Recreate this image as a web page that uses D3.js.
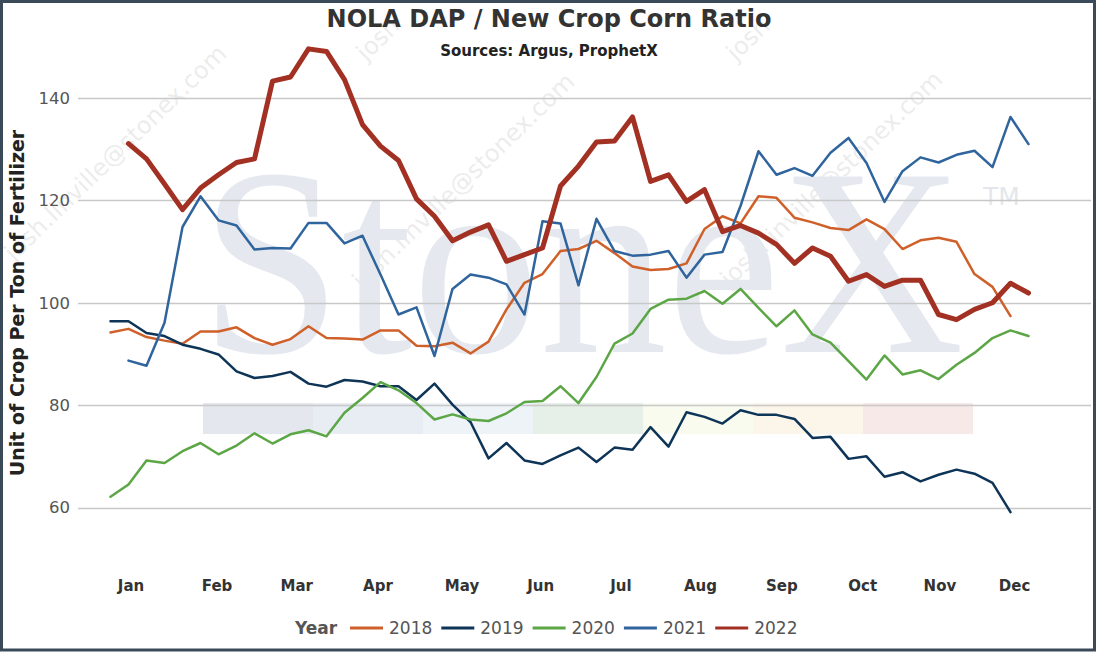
<!DOCTYPE html>
<html>
<head>
<meta charset="utf-8">
<script src="https://cdn.jsdelivr.net/npm/d3@7"></script>
<style>
  body { margin: 0; background: #fff; }
  svg { display: block; font-family: "DejaVu Sans", Verdana, sans-serif; }
</style>
</head>
<body>
<div id="chart"></div>
<script>
// tháng trên trục x và vị trí nhãn (theo chỉ số tuần)
const months = ["Jan", "Feb", "Mar", "Apr", "May", "Jun", "Jul", "Aug", "Sep", "Oct", "Nov", "Dec"];
const monthWeeks = [1.14, 5.92, 10.35, 14.86, 19.53, 23.9, 28.36, 32.78, 37.3, 41.79, 46.08, 50.23];
const yTicks = [60, 80, 100, 120, 140];
const years = ["2018", "2019", "2020", "2021", "2022"];

// dữ liệu theo tuần (chỉ số tuần bắt đầu)
const start2018 = 0;
const v2018 = [94.2, 94.9, 93.3, 92.6, 92.0, 94.4, 94.4, 95.2, 93.1, 91.8, 92.9,
  95.4, 93.1, 93.0, 92.8, 94.6, 94.6, 91.6, 91.5, 92.2, 90.1,
  92.4, 98.7, 103.9, 105.6, 110.1, 110.5, 112.1, 109.7, 107.1, 106.4,
  106.6, 107.7, 114.4, 116.9, 115.5, 120.8, 120.5, 116.6, 115.7, 114.6,
  114.2, 116.3, 114.4, 110.5, 112.2, 112.7, 111.9, 105.6, 103.1, 97.4];

const start2019 = 0;
const v2019 = [96.4, 96.4, 94.1, 93.5, 91.8, 91.0, 89.9, 86.6, 85.3, 85.7, 86.5,
  84.2, 83.6, 84.9, 84.6, 83.7, 83.7, 81.0, 84.2, 80.1, 76.7,
  69.6, 72.6, 69.2, 68.5, 70.2, 71.7, 68.9, 71.7, 71.3, 75.7,
  71.9, 78.6, 77.7, 76.4, 79.0, 78.1, 78.1, 77.3, 73.6, 73.8,
  69.5, 70.0, 66.0, 66.9, 65.1, 66.4, 67.4, 66.6, 64.8, 59.1];

const start2020 = 0;
const v2020 = [62.1, 64.5, 69.2, 68.7, 71.0, 72.6, 70.4, 72.1, 74.5, 72.5, 74.3,
  75.1, 73.9, 78.5, 81.4, 84.5, 82.9, 80.4, 77.2, 78.2, 77.2,
  76.9, 78.4, 80.6, 80.8, 83.7, 80.4, 85.5, 92.0, 94.0, 98.8,
  100.6, 100.8, 102.3, 99.8, 102.7, 99.0, 95.4, 98.5, 93.8, 92.2,
  88.6, 85.0, 89.7, 86.0, 86.8, 85.1, 87.9, 90.2, 93.1, 94.6, 93.5];

const start2021 = 1;
const v2021 = [88.7, 87.7, 96.1, 114.8, 120.8, 116.1, 115.1, 110.4, 110.7, 110.6,
  115.6, 115.6, 111.6, 113.1, 105.5, 97.7, 99.1, 89.6, 102.7, 105.5,
  104.9, 103.6, 97.7, 115.9, 115.5, 103.4, 116.4, 110.1, 109.2, 109.4,
  110.1, 104.9, 109.4, 109.9, 118.9, 129.6, 125.0, 126.3, 124.8, 129.3,
  132.2, 127.3, 119.7, 125.7, 128.4, 127.4, 128.9, 129.7, 126.5, 136.3, 131.0];

const start2022 = 1;
const v2022 = [131.1, 128.1, 123.2, 118.2, 122.4, 125.0, 127.4, 128.1, 143.3, 144.1,
  149.6, 149.1, 143.6, 134.8, 130.6, 127.8, 120.3, 116.9, 112.1, 113.8,
  115.2, 108.1, 109.4, 110.7, 122.8, 126.7, 131.4, 131.6, 136.3, 123.7,
  125.0, 119.8, 122.1, 113.9, 115.1, 113.6, 111.4, 107.7, 110.7, 109.1,
  104.2, 105.5, 103.2, 104.4, 104.4, 97.7, 96.7, 98.7, 100.0, 103.8, 101.9];

(() => {
    const width = 1098, height = 652;

    const colors = ["#d0602a", "#0e3557", "#5ca646", "#30649d", "#a33123"];
    const widths = [2.5, 2.5, 2.5, 2.5, 5];
    const bandColors = ["#e4e8ee", "#e8edf4", "#eef3f8", "#e6efe8", "#fafbef", "#fcf5ea", "#f8e9e9"];

    const series = [
        { year: years[0], start: start2018, values: v2018 },
        { year: years[1], start: start2019, values: v2019 },
        { year: years[2], start: start2020, values: v2020 },
        { year: years[3], start: start2021, values: v2021 },
        { year: years[4], start: start2022, values: v2022 }
    ];

    const x = d3.scaleLinear().domain([0, 51]).range([110.5, 1028.5]);
    const y = d3.scaleLinear().domain([60, 140]).range([507.5, 98]);

    const svg = d3.select("#chart")
        .append("svg")
        .attr("width", width)
        .attr("height", height);

    svg.append("rect")
        .attr("width", width)
        .attr("height", height)
        .attr("fill", "#fff");

    // watermark email
    const wm = svg.append("g");
    [[14, 262, "josh.linville@stonex.com"], [362, 290, "josh.linville@stonex.com"],
     [730, 288, "josh.linville@stonex.com"], [366, 62, "josh"], [736, 62, "josh"]].forEach(p => {
        wm.append("text")
            .attr("transform", `translate(${p[0]},${p[1]}) rotate(-44)`)
            .attr("fill", "#000")
            .attr("opacity", 0.07)
            .style("font-size", "24px")
            .text(p[2]);
    });

    // logo StoneX mờ phía sau
    svg.append("text")
        .attr("x", 200)
        .attr("y", 352)
        .attr("textLength", 764)
        .attr("lengthAdjust", "spacingAndGlyphs")
        .attr("fill", "#e5e9ef")
        .style("font-family", "'Liberation Serif', 'DejaVu Serif', serif")
        .style("font-size", "268px")
        .text("StoneX");

    svg.append("text")
        .attr("x", 983)
        .attr("y", 205)
        .attr("fill", "#e3e7ec")
        .style("font-size", "25px")
        .text("TM");

    svg.append("g")
        .selectAll("rect")
        .data(bandColors)
        .enter()
        .append("rect")
        .attr("x", (d, i) => 203 + i * 110)
        .attr("y", 403)
        .attr("width", 110)
        .attr("height", 31)
        .attr("fill", d => d);

    // lưới ngang + nhãn trục y
    const grid = svg.append("g");
    grid.selectAll("line")
        .data(yTicks)
        .enter()
        .append("line")
        .attr("x1", 78)
        .attr("x2", 1091)
        .attr("y1", d => Math.round(y(d)) + 0.5)
        .attr("y2", d => Math.round(y(d)) + 0.5)
        .attr("stroke", "#c8c8c8")
        .attr("stroke-width", 1.3);

    grid.selectAll("text")
        .data(yTicks)
        .enter()
        .append("text")
        .attr("x", 70)
        .attr("y", d => y(d))
        .attr("dy", "0.35em")
        .attr("text-anchor", "end")
        .attr("fill", "#555")
        .style("font-size", "16.5px")
        .text(d => d);

    // nhãn tháng
    svg.append("g")
        .selectAll("text")
        .data(months)
        .enter()
        .append("text")
        .attr("x", (d, i) => x(monthWeeks[i]))
        .attr("y", 591)
        .attr("text-anchor", "middle")
        .attr("fill", "#333")
        .style("font-size", "15px")
        .style("font-weight", "bold")
        .text(d => d);

    // vẽ các đường
    const line = d3.line()
        .x(d => x(d.i))
        .y(d => y(d.v));

    svg.append("g")
        .selectAll("path")
        .data(series)
        .enter()
        .append("path")
        .attr("d", s => line(s.values.map((v, k) => ({ i: s.start + k, v }))))
        .attr("fill", "none")
        .attr("stroke", (s, i) => colors[i])
        .attr("stroke-width", (s, i) => widths[i])
        .attr("stroke-linejoin", "round")
        .attr("stroke-linecap", "round");

    // tiêu đề
    svg.append("text")
        .attr("x", 549)
        .attr("y", 27)
        .attr("text-anchor", "middle")
        .attr("fill", "#333")
        .style("font-size", "24px")
        .style("font-weight", "bold")
        .text("NOLA DAP / New Crop Corn Ratio");

    svg.append("text")
        .attr("x", 549)
        .attr("y", 56)
        .attr("text-anchor", "middle")
        .attr("fill", "#222")
        .style("font-size", "15px")
        .style("font-weight", "bold")
        .text("Sources: Argus, ProphetX");

    svg.append("text")
        .attr("transform", "translate(24, 303) rotate(-90)")
        .attr("text-anchor", "middle")
        .attr("fill", "#222")
        .style("font-size", "19px")
        .style("font-weight", "bold")
        .text("Unit of Crop Per Ton of Fertilizer");

    // legend
    const legend = svg.append("g");
    legend.append("text")
        .attr("x", 295)
        .attr("y", 634)
        .attr("fill", "#555")
        .style("font-size", "17px")
        .style("font-weight", "bold")
        .text("Year");

    const item = legend.selectAll("g.item")
        .data(series)
        .enter()
        .append("g")
        .attr("class", "item")
        .attr("transform", (d, i) => `translate(${350 + i * 91.3}, 628)`);

    item.append("line")
        .attr("x1", 0)
        .attr("x2", 33)
        .attr("stroke", (d, i) => colors[i])
        .attr("stroke-width", 3);

    item.append("text")
        .attr("x", 39)
        .attr("y", 6)
        .attr("fill", "#555")
        .style("font-size", "17px")
        .text(d => d.year);

    // khung ngoài
    svg.append("rect")
        .attr("x", 1.5)
        .attr("y", 1.5)
        .attr("width", 1093)
        .attr("height", 648.5)
        .attr("fill", "none")
        .attr("stroke", "#3b4a59")
        .attr("stroke-width", 3);
})();
</script>
</body>
</html>
